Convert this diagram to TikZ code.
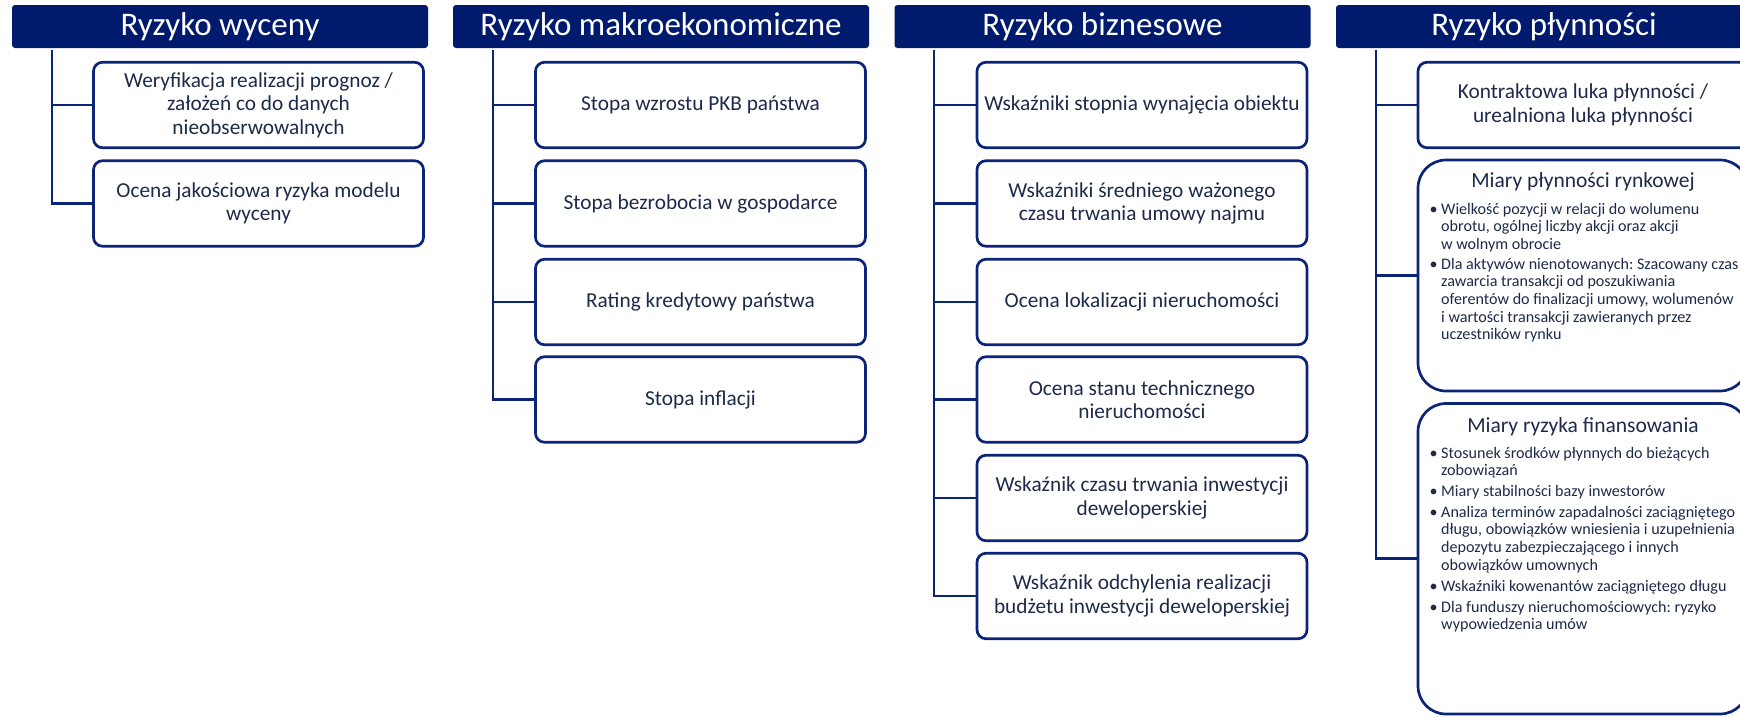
\documentclass[tikz,border=0pt]{standalone}
\usepackage{fontspec}
\setmainfont{Carlito}
\frenchspacing
\definecolor{navy}{HTML}{001A6E}
\definecolor{edge}{HTML}{0B2477}
\definecolor{ink}{HTML}{1E2A4A}
\tikzset{
  hdr/.style={fill=navy, rounded corners=3pt, text=white, inner sep=0pt,
    minimum width=416pt, minimum height=43pt, font=\fontsize{33}{38}\selectfont},
  itembox/.style={draw=edge, line width=2.7pt, rounded corners=9pt, fill=white,
    text=ink, inner sep=0pt, minimum width=330pt, minimum height=85.5pt,
    align=center, font=\fontsize{21.3}{23.5}\selectfont},
  bigbox/.style={draw=edge, line width=2.7pt, rounded corners=28pt, fill=white,
    inner sep=0pt, minimum width=330pt},
  link/.style={draw=edge, line width=2.7pt},
  subhdr/.style={text=ink, inner sep=0pt, anchor=base, font=\fontsize{21.5}{24}\selectfont},
  bul/.style={text=ink, inner sep=0pt, anchor=base west}
}
\newcommand{\bulitem}[1]{\begin{minipage}[t]{310pt}\fontsize{16.1}{17.7}\selectfont\frenchspacing\raggedright\parindent=0pt\leavevmode\llap{\textbullet\hspace{3.5pt}}#1\end{minipage}}
\begin{document}
\begin{tikzpicture}[x=1pt,y=-1pt]
\useasboundingbox (0,0) rectangle (1740,716);
\clip (0,0) rectangle (1740,716);
% headers
\node[hdr] (h1) at (220,26.5) {Ryzyko wyceny};
\node[hdr] (h2) at (661,26.5) {Ryzyko makroekonomiczne};
\node[hdr] (h3) at (1102.5,26.5) {Ryzyko biznesowe};
\node[hdr] (h4) at (1544,26.5) {Ryzyko płynności};
% column 1
\node[itembox] (a1) at (258.5,105) {Weryfikacja realizacji prognoz /\\założeń co do danych\\nieobserwowalnych};
\node[itembox] (a2) at (258.5,203.5) {Ocena jakościowa ryzyka modelu\\wyceny};
% column 2
\node[itembox] (b1) at (700.5,105) {Stopa wzrostu PKB państwa};
\node[itembox] (b2) at (700.5,203.5) {Stopa bezrobocia w gospodarce};
\node[itembox] (b3) at (700.5,302) {Rating kredytowy państwa};
\node[itembox] (b4) at (700.5,399.5) {Stopa inflacji};
% column 3
\node[itembox] (c1) at (1142,105) {Wskaźniki stopnia wynajęcia obiektu};
\node[itembox] (c2) at (1142,203.5) {Wskaźniki średniego ważonego\\czasu trwania umowy najmu};
\node[itembox] (c3) at (1142,302) {Ocena lokalizacji nieruchomości};
\node[itembox] (c4) at (1142,399.5) {Ocena stanu technicznego\\nieruchomości};
\node[itembox] (c5) at (1142,498) {Wskaźnik czasu trwania inwestycji\\deweloperskiej};
\node[itembox] (c6) at (1142,596) {Wskaźnik odchylenia realizacji\\budżetu inwestycji deweloperskiej};
% column 4
\node[itembox] (d1) at (1583,105) {Kontraktowa luka płynności /\\urealniona luka płynności};
\node[bigbox, minimum height=231pt] (d2) at (1583,275.5) {};
\node[bigbox, minimum height=310.5pt] (d3) at (1583,558.75) {};
\node[subhdr] (d2t) at (1583,187) {Miary płynności rynkowej};
\node[bul] (d2a) at (1441,214) {\bulitem{Wielkość pozycji w relacji do wolumenu\\obrotu, ogólnej liczby akcji oraz akcji\\w wolnym obrocie}};
\node[bul] (d2b) at (1441,269) {\bulitem{Dla aktywów nienotowanych: Szacowany czas\\zawarcia transakcji od poszukiwania\\oferentów do finalizacji umowy, wolumenów\\i wartości transakcji zawieranych przez\\uczestników rynku}};
\node[subhdr] (d3t) at (1583,432) {Miary ryzyka finansowania};
\node[bul] (d3a) at (1441,458) {\bulitem{Stosunek środków płynnych do bieżących\\zobowiązań}};
\node[bul] (d3b) at (1441,496) {\bulitem{Miary stabilności bazy inwestorów}};
\node[bul] (d3c) at (1441,517) {\bulitem{Analiza terminów zapadalności zaciągniętego\\długu, obowiązków wniesienia i uzupełnienia\\depozytu zabezpieczającego i innych\\obowiązków umownych}};
\node[bul] (d3d) at (1441,591) {\bulitem{Wskaźniki kowenantów zaciągniętego długu}};
\node[bul] (d3e) at (1441,612) {\bulitem{Dla funduszy nieruchomościowych: ryzyko\\wypowiedzenia umów}};
% connectors
\coordinate (va) at (52,50);
\coordinate (vb) at (493,50);
\coordinate (vc) at (934,50);
\coordinate (vd) at (1376,50);
\foreach \n in {a1,a2} \draw[link] (va) |- (\n.west);
\foreach \n in {b1,b2,b3,b4} \draw[link] (vb) |- (\n.west);
\foreach \n in {c1,c2,c3,c4,c5,c6} \draw[link] (vc) |- (\n.west);
\foreach \n in {d1,d2,d3} \draw[link] (vd) |- (\n.west);
\end{tikzpicture}
\end{document}
